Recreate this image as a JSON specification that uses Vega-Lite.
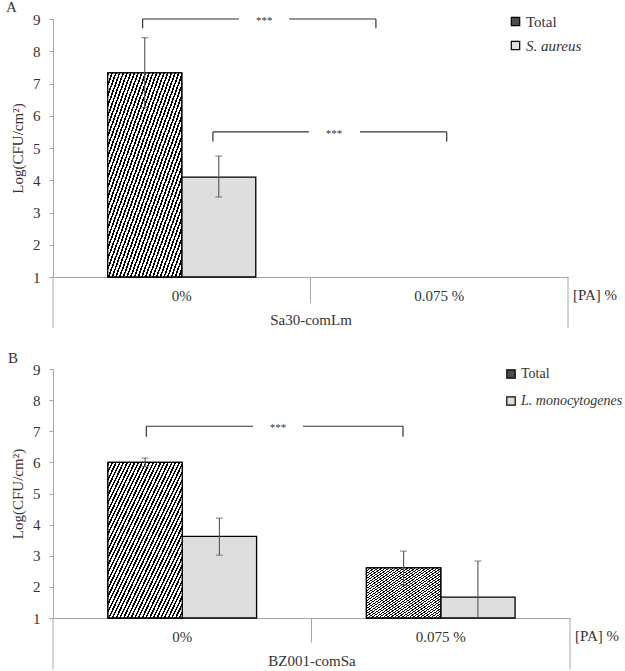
{
  "$schema": "https://vega.github.io/schema/vega-lite/v6.json",
  "padding": {"left": 6, "top": 0, "right": 0, "bottom": 0},
  "background": "white",
  "datasets": {
    "barsA": [
      {"conc": "0%", "series": "Total", "value": 7.33, "lo": 6.25, "hi": 8.42},
      {"conc": "0%", "series": "S. aureus", "value": 4.1, "lo": 3.48, "hi": 4.75}
    ],
    "barsB": [
      {"conc": "0%", "series": "Total", "value": 6.0, "lo": 5.86, "hi": 6.14},
      {"conc": "0%", "series": "L. monocytogenes", "value": 3.62, "lo": 3.02, "hi": 4.21},
      {"conc": "0.075 %", "series": "Total", "value": 2.61, "lo": 2.06, "hi": 3.15},
      {"conc": "0.075 %", "series": "L. monocytogenes", "value": 1.67, "lo": 1.0, "hi": 2.83}
    ],
    "segA": [
      {"px": 0.348, "px2": 0.722, "y": 9, "y2": 9},
      {"px": 0.917, "px2": 1.254, "y": 9, "y2": 9},
      {"px": 0.348, "px2": 0.348, "y": 9, "y2": 8.71},
      {"px": 1.254, "px2": 1.254, "y": 9, "y2": 8.71},
      {"px": 0.621, "px2": 0.994, "y": 5.5, "y2": 5.5},
      {"px": 1.192, "px2": 1.529, "y": 5.5, "y2": 5.5},
      {"px": 0.621, "px2": 0.621, "y": 5.5, "y2": 5.2},
      {"px": 1.529, "px2": 1.529, "y": 5.5, "y2": 5.2}
    ],
    "segB": [
      {"px": 0.361, "px2": 0.774, "y": 7.16, "y2": 7.16},
      {"px": 0.967, "px2": 1.354, "y": 7.16, "y2": 7.16},
      {"px": 0.361, "px2": 0.361, "y": 7.16, "y2": 6.82},
      {"px": 1.354, "px2": 1.354, "y": 7.16, "y2": 6.82}
    ],
    "starsA": [
      {"px": 0.82, "y": 9},
      {"px": 1.091, "y": 5.5}
    ],
    "starsB": [
      {"px": 0.87, "y": 7.16}
    ],
    "gridA": [
      {"px": 0, "y": 1, "y2": -0.58},
      {"px": 1, "y": 1, "y2": 0.195},
      {"px": 2, "y": 1, "y2": -0.58}
    ],
    "gridB": [
      {"px": 0, "y": 1, "y2": -0.65},
      {"px": 1, "y": 1, "y2": 0.21},
      {"px": 2, "y": 1, "y2": -0.65}
    ],
    "paLabel": [
      {"px": 2, "y": 1, "label": "[PA] %"}
    ]
  },
  "vconcat": [
    {
      "title": {"text": "A", "anchor": "start", "frame": "group", "dx": -47, "offset": -3, "fontSize": 15, "fontWeight": "normal", "color": "#333333"},
      "resolve": {"scale": {"x": "independent"}},
      "width": 515,
      "height": 258,
      "layer": [
        {
          "data": {"name": "barsA"},
          "layer": [
            {
              "mark": {"type": "bar", "stroke": "black", "strokeWidth": 1.3},
              "encoding": {
                "x": {"field": "conc", "type": "nominal", "sort": null, "scale": {"domain": ["0%", "0.075 %"], "paddingInner": 0.425, "paddingOuter": 0.2125}, "axis": {"title": "Sa30-comLm", "labelAngle": 0, "ticks": false, "labelPadding": 11, "titlePadding": 9}},
                "xOffset": {"field": "series", "type": "nominal", "sort": null, "scale": {"domain": ["Total", "S. aureus"], "paddingInner": 0, "paddingOuter": 0}},
                "y": {"field": "value", "type": "quantitative", "scale": {"domain": [1, 9], "nice": false, "zero": false}, "axis": {"title": "Log(CFU/cm²)", "values": [1, 2, 3, 4, 5, 6, 7, 8, 9], "labelOverlap": false}},
                "y2": {"datum": 1},
                "color": {
                  "field": "series", "type": "nominal", "sort": null,
                  "scale": {"domain": ["Total", "S. aureus"], "range": ["#4d4d4d", "#dedede"]},
                  "legend": {"orient": "none", "legendX": 455, "legendY": -5, "title": null, "symbolType": "square", "symbolSize": 70, "symbolStrokeColor": "black", "symbolStrokeWidth": 1.2, "symbolOpacity": 1, "labelFontSize": 15, "labelColor": "#333333", "rowPadding": 8, "labelOffset": 3,
                    "encode": {"labels": {"update": {"fontStyle": {"signal": "datum.value === 'Total' ? 'normal' : 'italic'"}}}}}
                }
              }
            },
            {
              "transform": [{"filter": "datum.series === 'Total'"}],
              "mark": {"type": "bar", "stroke": "black", "strokeWidth": 1.3,
                "fill": {
                  "gradient": "linear", "x1": 0, "y1": 0, "x2": 1, "y2": 1,
                  "stops": [
                    {"offset": 0, "color": "#000"}, {"offset": 0.011, "color": "#000"}, {"offset": 0.011, "color": "#fff"}, {"offset": 0.025, "color": "#fff"},
                    {"offset": 0.025, "color": "#000"}, {"offset": 0.036, "color": "#000"}, {"offset": 0.036, "color": "#fff"}, {"offset": 0.05, "color": "#fff"},
                    {"offset": 0.05, "color": "#000"}, {"offset": 0.061, "color": "#000"}, {"offset": 0.061, "color": "#fff"}, {"offset": 0.075, "color": "#fff"},
                    {"offset": 0.075, "color": "#000"}, {"offset": 0.086, "color": "#000"}, {"offset": 0.086, "color": "#fff"}, {"offset": 0.1, "color": "#fff"},
                    {"offset": 0.1, "color": "#000"}, {"offset": 0.111, "color": "#000"}, {"offset": 0.111, "color": "#fff"}, {"offset": 0.125, "color": "#fff"},
                    {"offset": 0.125, "color": "#000"}, {"offset": 0.136, "color": "#000"}, {"offset": 0.136, "color": "#fff"}, {"offset": 0.15, "color": "#fff"},
                    {"offset": 0.15, "color": "#000"}, {"offset": 0.161, "color": "#000"}, {"offset": 0.161, "color": "#fff"}, {"offset": 0.175, "color": "#fff"},
                    {"offset": 0.175, "color": "#000"}, {"offset": 0.186, "color": "#000"}, {"offset": 0.186, "color": "#fff"}, {"offset": 0.2, "color": "#fff"},
                    {"offset": 0.2, "color": "#000"}, {"offset": 0.211, "color": "#000"}, {"offset": 0.211, "color": "#fff"}, {"offset": 0.225, "color": "#fff"},
                    {"offset": 0.225, "color": "#000"}, {"offset": 0.236, "color": "#000"}, {"offset": 0.236, "color": "#fff"}, {"offset": 0.25, "color": "#fff"},
                    {"offset": 0.25, "color": "#000"}, {"offset": 0.261, "color": "#000"}, {"offset": 0.261, "color": "#fff"}, {"offset": 0.275, "color": "#fff"},
                    {"offset": 0.275, "color": "#000"}, {"offset": 0.286, "color": "#000"}, {"offset": 0.286, "color": "#fff"}, {"offset": 0.3, "color": "#fff"},
                    {"offset": 0.3, "color": "#000"}, {"offset": 0.311, "color": "#000"}, {"offset": 0.311, "color": "#fff"}, {"offset": 0.325, "color": "#fff"},
                    {"offset": 0.325, "color": "#000"}, {"offset": 0.336, "color": "#000"}, {"offset": 0.336, "color": "#fff"}, {"offset": 0.35, "color": "#fff"},
                    {"offset": 0.35, "color": "#000"}, {"offset": 0.361, "color": "#000"}, {"offset": 0.361, "color": "#fff"}, {"offset": 0.375, "color": "#fff"},
                    {"offset": 0.375, "color": "#000"}, {"offset": 0.386, "color": "#000"}, {"offset": 0.386, "color": "#fff"}, {"offset": 0.4, "color": "#fff"},
                    {"offset": 0.4, "color": "#000"}, {"offset": 0.411, "color": "#000"}, {"offset": 0.411, "color": "#fff"}, {"offset": 0.425, "color": "#fff"},
                    {"offset": 0.425, "color": "#000"}, {"offset": 0.436, "color": "#000"}, {"offset": 0.436, "color": "#fff"}, {"offset": 0.45, "color": "#fff"},
                    {"offset": 0.45, "color": "#000"}, {"offset": 0.461, "color": "#000"}, {"offset": 0.461, "color": "#fff"}, {"offset": 0.475, "color": "#fff"},
                    {"offset": 0.475, "color": "#000"}, {"offset": 0.486, "color": "#000"}, {"offset": 0.486, "color": "#fff"}, {"offset": 0.5, "color": "#fff"},
                    {"offset": 0.5, "color": "#000"}, {"offset": 0.511, "color": "#000"}, {"offset": 0.511, "color": "#fff"}, {"offset": 0.525, "color": "#fff"},
                    {"offset": 0.525, "color": "#000"}, {"offset": 0.536, "color": "#000"}, {"offset": 0.536, "color": "#fff"}, {"offset": 0.55, "color": "#fff"},
                    {"offset": 0.55, "color": "#000"}, {"offset": 0.561, "color": "#000"}, {"offset": 0.561, "color": "#fff"}, {"offset": 0.575, "color": "#fff"},
                    {"offset": 0.575, "color": "#000"}, {"offset": 0.586, "color": "#000"}, {"offset": 0.586, "color": "#fff"}, {"offset": 0.6, "color": "#fff"},
                    {"offset": 0.6, "color": "#000"}, {"offset": 0.611, "color": "#000"}, {"offset": 0.611, "color": "#fff"}, {"offset": 0.625, "color": "#fff"},
                    {"offset": 0.625, "color": "#000"}, {"offset": 0.636, "color": "#000"}, {"offset": 0.636, "color": "#fff"}, {"offset": 0.65, "color": "#fff"},
                    {"offset": 0.65, "color": "#000"}, {"offset": 0.661, "color": "#000"}, {"offset": 0.661, "color": "#fff"}, {"offset": 0.675, "color": "#fff"},
                    {"offset": 0.675, "color": "#000"}, {"offset": 0.686, "color": "#000"}, {"offset": 0.686, "color": "#fff"}, {"offset": 0.7, "color": "#fff"},
                    {"offset": 0.7, "color": "#000"}, {"offset": 0.711, "color": "#000"}, {"offset": 0.711, "color": "#fff"}, {"offset": 0.725, "color": "#fff"},
                    {"offset": 0.725, "color": "#000"}, {"offset": 0.736, "color": "#000"}, {"offset": 0.736, "color": "#fff"}, {"offset": 0.75, "color": "#fff"},
                    {"offset": 0.75, "color": "#000"}, {"offset": 0.761, "color": "#000"}, {"offset": 0.761, "color": "#fff"}, {"offset": 0.775, "color": "#fff"},
                    {"offset": 0.775, "color": "#000"}, {"offset": 0.786, "color": "#000"}, {"offset": 0.786, "color": "#fff"}, {"offset": 0.8, "color": "#fff"},
                    {"offset": 0.8, "color": "#000"}, {"offset": 0.811, "color": "#000"}, {"offset": 0.811, "color": "#fff"}, {"offset": 0.825, "color": "#fff"},
                    {"offset": 0.825, "color": "#000"}, {"offset": 0.836, "color": "#000"}, {"offset": 0.836, "color": "#fff"}, {"offset": 0.85, "color": "#fff"},
                    {"offset": 0.85, "color": "#000"}, {"offset": 0.861, "color": "#000"}, {"offset": 0.861, "color": "#fff"}, {"offset": 0.875, "color": "#fff"},
                    {"offset": 0.875, "color": "#000"}, {"offset": 0.886, "color": "#000"}, {"offset": 0.886, "color": "#fff"}, {"offset": 0.9, "color": "#fff"},
                    {"offset": 0.9, "color": "#000"}, {"offset": 0.911, "color": "#000"}, {"offset": 0.911, "color": "#fff"}, {"offset": 0.925, "color": "#fff"},
                    {"offset": 0.925, "color": "#000"}, {"offset": 0.936, "color": "#000"}, {"offset": 0.936, "color": "#fff"}, {"offset": 0.95, "color": "#fff"},
                    {"offset": 0.95, "color": "#000"}, {"offset": 0.961, "color": "#000"}, {"offset": 0.961, "color": "#fff"}, {"offset": 0.975, "color": "#fff"},
                    {"offset": 0.975, "color": "#000"}, {"offset": 0.986, "color": "#000"}, {"offset": 0.986, "color": "#fff"}, {"offset": 1, "color": "#fff"}
                  ]
                }
              },
              "encoding": {
                "x": {"field": "conc", "type": "nominal", "sort": null, "scale": {"domain": ["0%", "0.075 %"], "paddingInner": 0.425, "paddingOuter": 0.2125}},
                "xOffset": {"field": "series", "type": "nominal", "sort": null, "scale": {"domain": ["Total", "S. aureus"]}},
                "y": {"field": "value", "type": "quantitative", "scale": {"domain": [1, 9]}, "axis": {"title": "Log(CFU/cm²)", "values": [1, 2, 3, 4, 5, 6, 7, 8, 9], "labelOverlap": false}},
                "y2": {"datum": 1}
              }
            },
            {
              "mark": {"type": "rule", "color": "#555555", "strokeWidth": 1.1},
              "encoding": {
                "x": {"field": "conc", "type": "nominal", "sort": null},
                "xOffset": {"field": "series", "type": "nominal", "sort": null},
                "y": {"field": "lo", "type": "quantitative", "scale": {"domain": [1, 9]}, "axis": {"title": "Log(CFU/cm²)", "values": [1, 2, 3, 4, 5, 6, 7, 8, 9], "labelOverlap": false}},
                "y2": {"field": "hi"}
              }
            },
            {
              "mark": {"type": "tick", "color": "#555555", "thickness": 1.1, "size": 7},
              "encoding": {
                "x": {"field": "conc", "type": "nominal", "sort": null},
                "xOffset": {"field": "series", "type": "nominal", "sort": null},
                "y": {"field": "lo", "type": "quantitative", "scale": {"domain": [1, 9]}, "axis": {"title": "Log(CFU/cm²)", "values": [1, 2, 3, 4, 5, 6, 7, 8, 9], "labelOverlap": false}}
              }
            },
            {
              "mark": {"type": "tick", "color": "#555555", "thickness": 1.1, "size": 7},
              "encoding": {
                "x": {"field": "conc", "type": "nominal", "sort": null},
                "xOffset": {"field": "series", "type": "nominal", "sort": null},
                "y": {"field": "hi", "type": "quantitative", "scale": {"domain": [1, 9]}, "axis": {"title": "Log(CFU/cm²)", "values": [1, 2, 3, 4, 5, 6, 7, 8, 9], "labelOverlap": false}}
              }
            }
          ]
        },
        {
          "layer": [
            {
              "data": {"name": "gridA"},
              "mark": {"type": "rule", "color": "#a6a6a6", "strokeWidth": 1},
              "encoding": {
                "x": {"field": "px", "type": "quantitative", "scale": {"domain": [0, 2], "nice": false, "zero": false}, "axis": null},
                "y": {"field": "y", "type": "quantitative", "scale": {"domain": [1, 9]}, "axis": {"title": "Log(CFU/cm²)", "values": [1, 2, 3, 4, 5, 6, 7, 8, 9], "labelOverlap": false}},
                "y2": {"field": "y2"}
              }
            },
            {
              "data": {"name": "segA"},
              "mark": {"type": "rule", "color": "#333333", "strokeWidth": 1.2},
              "encoding": {
                "x": {"field": "px", "type": "quantitative", "scale": {"domain": [0, 2], "nice": false, "zero": false}, "axis": null},
                "x2": {"field": "px2"},
                "y": {"field": "y", "type": "quantitative", "scale": {"domain": [1, 9]}, "axis": {"title": "Log(CFU/cm²)", "values": [1, 2, 3, 4, 5, 6, 7, 8, 9], "labelOverlap": false}},
                "y2": {"field": "y2"}
              }
            },
            {
              "data": {"name": "starsA"},
              "mark": {"type": "text", "text": "***", "fontSize": 11, "color": "#333333", "baseline": "middle", "align": "center", "dy": 2},
              "encoding": {
                "x": {"field": "px", "type": "quantitative", "scale": {"domain": [0, 2], "nice": false, "zero": false}, "axis": null},
                "y": {"field": "y", "type": "quantitative", "scale": {"domain": [1, 9]}, "axis": {"title": "Log(CFU/cm²)", "values": [1, 2, 3, 4, 5, 6, 7, 8, 9], "labelOverlap": false}}
              }
            },
            {
              "data": {"name": "paLabel"},
              "mark": {"type": "text", "fontSize": 15, "color": "#333333", "baseline": "middle", "align": "left", "dx": 5, "dy": 18},
              "encoding": {
                "x": {"field": "px", "type": "quantitative", "scale": {"domain": [0, 2], "nice": false, "zero": false}, "axis": null},
                "y": {"field": "y", "type": "quantitative", "scale": {"domain": [1, 9]}, "axis": {"title": "Log(CFU/cm²)", "values": [1, 2, 3, 4, 5, 6, 7, 8, 9], "labelOverlap": false}},
                "text": {"field": "label"}
              }
            }
          ]
        }
      ]
    },
    {
      "title": {"text": "B", "anchor": "start", "frame": "group", "dx": -45, "offset": -4, "fontSize": 15, "fontWeight": "normal", "color": "#333333"},
      "resolve": {"scale": {"x": "independent"}},
      "width": 517,
      "height": 249,
      "layer": [
        {
          "data": {"name": "barsB"},
          "layer": [
            {
              "mark": {"type": "bar", "stroke": "black", "strokeWidth": 1.3},
              "encoding": {
                "x": {"field": "conc", "type": "nominal", "sort": null, "scale": {"domain": ["0%", "0.075 %"], "paddingInner": 0.425, "paddingOuter": 0.2125}, "axis": {"title": "BZ001-comSa", "labelAngle": 0, "ticks": false, "labelPadding": 11, "titlePadding": 9}},
                "xOffset": {"field": "series", "type": "nominal", "sort": null, "scale": {"domain": ["Total", "L. monocytogenes"], "paddingInner": 0, "paddingOuter": 0}},
                "y": {"field": "value", "type": "quantitative", "scale": {"domain": [1, 9], "nice": false, "zero": false}, "axis": {"title": "Log(CFU/cm²)", "values": [1, 2, 3, 4, 5, 6, 7, 8, 9], "labelOverlap": false}},
                "y2": {"datum": 1},
                "color": {
                  "field": "series", "type": "nominal", "sort": null,
                  "scale": {"domain": ["Total", "L. monocytogenes"], "range": ["#4d4d4d", "#dedede"]},
                  "legend": {"orient": "none", "legendX": 451, "legendY": -2, "title": null, "symbolType": "square", "symbolSize": 70, "symbolStrokeColor": "black", "symbolStrokeWidth": 1.2, "symbolOpacity": 1, "labelFontSize": 14, "labelColor": "#333333", "rowPadding": 13, "labelOffset": 3, "labelLimit": 200,
                    "encode": {"labels": {"update": {"fontStyle": {"signal": "datum.value === 'Total' ? 'normal' : 'italic'"}}}}}
                }
              }
            },
            {
              "transform": [{"filter": "datum.series === 'Total'"}],
              "mark": {"type": "bar", "stroke": "black", "strokeWidth": 1.3,
                "fill": {
                  "gradient": "linear", "x1": 0, "y1": 0, "x2": 1, "y2": 1,
                  "stops": [
                    {"offset": 0, "color": "#000"}, {"offset": 0.011, "color": "#000"}, {"offset": 0.011, "color": "#fff"}, {"offset": 0.025, "color": "#fff"},
                    {"offset": 0.025, "color": "#000"}, {"offset": 0.036, "color": "#000"}, {"offset": 0.036, "color": "#fff"}, {"offset": 0.05, "color": "#fff"},
                    {"offset": 0.05, "color": "#000"}, {"offset": 0.061, "color": "#000"}, {"offset": 0.061, "color": "#fff"}, {"offset": 0.075, "color": "#fff"},
                    {"offset": 0.075, "color": "#000"}, {"offset": 0.086, "color": "#000"}, {"offset": 0.086, "color": "#fff"}, {"offset": 0.1, "color": "#fff"},
                    {"offset": 0.1, "color": "#000"}, {"offset": 0.111, "color": "#000"}, {"offset": 0.111, "color": "#fff"}, {"offset": 0.125, "color": "#fff"},
                    {"offset": 0.125, "color": "#000"}, {"offset": 0.136, "color": "#000"}, {"offset": 0.136, "color": "#fff"}, {"offset": 0.15, "color": "#fff"},
                    {"offset": 0.15, "color": "#000"}, {"offset": 0.161, "color": "#000"}, {"offset": 0.161, "color": "#fff"}, {"offset": 0.175, "color": "#fff"},
                    {"offset": 0.175, "color": "#000"}, {"offset": 0.186, "color": "#000"}, {"offset": 0.186, "color": "#fff"}, {"offset": 0.2, "color": "#fff"},
                    {"offset": 0.2, "color": "#000"}, {"offset": 0.211, "color": "#000"}, {"offset": 0.211, "color": "#fff"}, {"offset": 0.225, "color": "#fff"},
                    {"offset": 0.225, "color": "#000"}, {"offset": 0.236, "color": "#000"}, {"offset": 0.236, "color": "#fff"}, {"offset": 0.25, "color": "#fff"},
                    {"offset": 0.25, "color": "#000"}, {"offset": 0.261, "color": "#000"}, {"offset": 0.261, "color": "#fff"}, {"offset": 0.275, "color": "#fff"},
                    {"offset": 0.275, "color": "#000"}, {"offset": 0.286, "color": "#000"}, {"offset": 0.286, "color": "#fff"}, {"offset": 0.3, "color": "#fff"},
                    {"offset": 0.3, "color": "#000"}, {"offset": 0.311, "color": "#000"}, {"offset": 0.311, "color": "#fff"}, {"offset": 0.325, "color": "#fff"},
                    {"offset": 0.325, "color": "#000"}, {"offset": 0.336, "color": "#000"}, {"offset": 0.336, "color": "#fff"}, {"offset": 0.35, "color": "#fff"},
                    {"offset": 0.35, "color": "#000"}, {"offset": 0.361, "color": "#000"}, {"offset": 0.361, "color": "#fff"}, {"offset": 0.375, "color": "#fff"},
                    {"offset": 0.375, "color": "#000"}, {"offset": 0.386, "color": "#000"}, {"offset": 0.386, "color": "#fff"}, {"offset": 0.4, "color": "#fff"},
                    {"offset": 0.4, "color": "#000"}, {"offset": 0.411, "color": "#000"}, {"offset": 0.411, "color": "#fff"}, {"offset": 0.425, "color": "#fff"},
                    {"offset": 0.425, "color": "#000"}, {"offset": 0.436, "color": "#000"}, {"offset": 0.436, "color": "#fff"}, {"offset": 0.45, "color": "#fff"},
                    {"offset": 0.45, "color": "#000"}, {"offset": 0.461, "color": "#000"}, {"offset": 0.461, "color": "#fff"}, {"offset": 0.475, "color": "#fff"},
                    {"offset": 0.475, "color": "#000"}, {"offset": 0.486, "color": "#000"}, {"offset": 0.486, "color": "#fff"}, {"offset": 0.5, "color": "#fff"},
                    {"offset": 0.5, "color": "#000"}, {"offset": 0.511, "color": "#000"}, {"offset": 0.511, "color": "#fff"}, {"offset": 0.525, "color": "#fff"},
                    {"offset": 0.525, "color": "#000"}, {"offset": 0.536, "color": "#000"}, {"offset": 0.536, "color": "#fff"}, {"offset": 0.55, "color": "#fff"},
                    {"offset": 0.55, "color": "#000"}, {"offset": 0.561, "color": "#000"}, {"offset": 0.561, "color": "#fff"}, {"offset": 0.575, "color": "#fff"},
                    {"offset": 0.575, "color": "#000"}, {"offset": 0.586, "color": "#000"}, {"offset": 0.586, "color": "#fff"}, {"offset": 0.6, "color": "#fff"},
                    {"offset": 0.6, "color": "#000"}, {"offset": 0.611, "color": "#000"}, {"offset": 0.611, "color": "#fff"}, {"offset": 0.625, "color": "#fff"},
                    {"offset": 0.625, "color": "#000"}, {"offset": 0.636, "color": "#000"}, {"offset": 0.636, "color": "#fff"}, {"offset": 0.65, "color": "#fff"},
                    {"offset": 0.65, "color": "#000"}, {"offset": 0.661, "color": "#000"}, {"offset": 0.661, "color": "#fff"}, {"offset": 0.675, "color": "#fff"},
                    {"offset": 0.675, "color": "#000"}, {"offset": 0.686, "color": "#000"}, {"offset": 0.686, "color": "#fff"}, {"offset": 0.7, "color": "#fff"},
                    {"offset": 0.7, "color": "#000"}, {"offset": 0.711, "color": "#000"}, {"offset": 0.711, "color": "#fff"}, {"offset": 0.725, "color": "#fff"},
                    {"offset": 0.725, "color": "#000"}, {"offset": 0.736, "color": "#000"}, {"offset": 0.736, "color": "#fff"}, {"offset": 0.75, "color": "#fff"},
                    {"offset": 0.75, "color": "#000"}, {"offset": 0.761, "color": "#000"}, {"offset": 0.761, "color": "#fff"}, {"offset": 0.775, "color": "#fff"},
                    {"offset": 0.775, "color": "#000"}, {"offset": 0.786, "color": "#000"}, {"offset": 0.786, "color": "#fff"}, {"offset": 0.8, "color": "#fff"},
                    {"offset": 0.8, "color": "#000"}, {"offset": 0.811, "color": "#000"}, {"offset": 0.811, "color": "#fff"}, {"offset": 0.825, "color": "#fff"},
                    {"offset": 0.825, "color": "#000"}, {"offset": 0.836, "color": "#000"}, {"offset": 0.836, "color": "#fff"}, {"offset": 0.85, "color": "#fff"},
                    {"offset": 0.85, "color": "#000"}, {"offset": 0.861, "color": "#000"}, {"offset": 0.861, "color": "#fff"}, {"offset": 0.875, "color": "#fff"},
                    {"offset": 0.875, "color": "#000"}, {"offset": 0.886, "color": "#000"}, {"offset": 0.886, "color": "#fff"}, {"offset": 0.9, "color": "#fff"},
                    {"offset": 0.9, "color": "#000"}, {"offset": 0.911, "color": "#000"}, {"offset": 0.911, "color": "#fff"}, {"offset": 0.925, "color": "#fff"},
                    {"offset": 0.925, "color": "#000"}, {"offset": 0.936, "color": "#000"}, {"offset": 0.936, "color": "#fff"}, {"offset": 0.95, "color": "#fff"},
                    {"offset": 0.95, "color": "#000"}, {"offset": 0.961, "color": "#000"}, {"offset": 0.961, "color": "#fff"}, {"offset": 0.975, "color": "#fff"},
                    {"offset": 0.975, "color": "#000"}, {"offset": 0.986, "color": "#000"}, {"offset": 0.986, "color": "#fff"}, {"offset": 1, "color": "#fff"}
                  ]
                }
              },
              "encoding": {
                "x": {"field": "conc", "type": "nominal", "sort": null, "scale": {"domain": ["0%", "0.075 %"], "paddingInner": 0.425, "paddingOuter": 0.2125}},
                "xOffset": {"field": "series", "type": "nominal", "sort": null, "scale": {"domain": ["Total", "L. monocytogenes"]}},
                "y": {"field": "value", "type": "quantitative", "scale": {"domain": [1, 9]}, "axis": {"title": "Log(CFU/cm²)", "values": [1, 2, 3, 4, 5, 6, 7, 8, 9], "labelOverlap": false}},
                "y2": {"datum": 1}
              }
            },
            {
              "mark": {"type": "rule", "color": "#555555", "strokeWidth": 1.1},
              "encoding": {
                "x": {"field": "conc", "type": "nominal", "sort": null},
                "xOffset": {"field": "series", "type": "nominal", "sort": null},
                "y": {"field": "lo", "type": "quantitative", "scale": {"domain": [1, 9]}, "axis": {"title": "Log(CFU/cm²)", "values": [1, 2, 3, 4, 5, 6, 7, 8, 9], "labelOverlap": false}},
                "y2": {"field": "hi"}
              }
            },
            {
              "transform": [{"filter": "datum.lo > 1"}],
              "mark": {"type": "tick", "color": "#555555", "thickness": 1.1, "size": 7},
              "encoding": {
                "x": {"field": "conc", "type": "nominal", "sort": null},
                "xOffset": {"field": "series", "type": "nominal", "sort": null},
                "y": {"field": "lo", "type": "quantitative", "scale": {"domain": [1, 9]}, "axis": {"title": "Log(CFU/cm²)", "values": [1, 2, 3, 4, 5, 6, 7, 8, 9], "labelOverlap": false}}
              }
            },
            {
              "mark": {"type": "tick", "color": "#555555", "thickness": 1.1, "size": 7},
              "encoding": {
                "x": {"field": "conc", "type": "nominal", "sort": null},
                "xOffset": {"field": "series", "type": "nominal", "sort": null},
                "y": {"field": "hi", "type": "quantitative", "scale": {"domain": [1, 9]}, "axis": {"title": "Log(CFU/cm²)", "values": [1, 2, 3, 4, 5, 6, 7, 8, 9], "labelOverlap": false}}
              }
            }
          ]
        },
        {
          "layer": [
            {
              "data": {"name": "gridB"},
              "mark": {"type": "rule", "color": "#a6a6a6", "strokeWidth": 1},
              "encoding": {
                "x": {"field": "px", "type": "quantitative", "scale": {"domain": [0, 2], "nice": false, "zero": false}, "axis": null},
                "y": {"field": "y", "type": "quantitative", "scale": {"domain": [1, 9]}, "axis": {"title": "Log(CFU/cm²)", "values": [1, 2, 3, 4, 5, 6, 7, 8, 9], "labelOverlap": false}},
                "y2": {"field": "y2"}
              }
            },
            {
              "data": {"name": "segB"},
              "mark": {"type": "rule", "color": "#333333", "strokeWidth": 1.2},
              "encoding": {
                "x": {"field": "px", "type": "quantitative", "scale": {"domain": [0, 2], "nice": false, "zero": false}, "axis": null},
                "x2": {"field": "px2"},
                "y": {"field": "y", "type": "quantitative", "scale": {"domain": [1, 9]}, "axis": {"title": "Log(CFU/cm²)", "values": [1, 2, 3, 4, 5, 6, 7, 8, 9], "labelOverlap": false}},
                "y2": {"field": "y2"}
              }
            },
            {
              "data": {"name": "starsB"},
              "mark": {"type": "text", "text": "***", "fontSize": 11, "color": "#333333", "baseline": "middle", "align": "center", "dy": 2},
              "encoding": {
                "x": {"field": "px", "type": "quantitative", "scale": {"domain": [0, 2], "nice": false, "zero": false}, "axis": null},
                "y": {"field": "y", "type": "quantitative", "scale": {"domain": [1, 9]}, "axis": {"title": "Log(CFU/cm²)", "values": [1, 2, 3, 4, 5, 6, 7, 8, 9], "labelOverlap": false}}
              }
            },
            {
              "data": {"name": "paLabel"},
              "mark": {"type": "text", "fontSize": 15, "color": "#333333", "baseline": "middle", "align": "left", "dx": 5, "dy": 18},
              "encoding": {
                "x": {"field": "px", "type": "quantitative", "scale": {"domain": [0, 2], "nice": false, "zero": false}, "axis": null},
                "y": {"field": "y", "type": "quantitative", "scale": {"domain": [1, 9]}, "axis": {"title": "Log(CFU/cm²)", "values": [1, 2, 3, 4, 5, 6, 7, 8, 9], "labelOverlap": false}},
                "text": {"field": "label"}
              }
            }
          ]
        }
      ]
    }
  ],
  "resolve": {"scale": {"color": "independent", "xOffset": "independent"}, "legend": {"color": "independent"}},
  "spacing": 22,
  "config": {
    "font": "Liberation Serif",
    "view": {"stroke": null},
    "axis": {"grid": false, "domainColor": "#a6a6a6", "tickColor": "#a6a6a6", "tickSize": 4, "labelFontSize": 15, "labelColor": "#333333", "titleFontSize": 15, "titleFontWeight": "normal", "titleColor": "#333333", "labelFont": "Liberation Serif", "titleFont": "Liberation Serif", "labelOverlap": false},
    "axisY": {"labelPadding": 9, "titlePadding": 7},
    "legend": {"labelFont": "Liberation Serif"},
    "title": {"font": "Liberation Serif"}
  }
}
